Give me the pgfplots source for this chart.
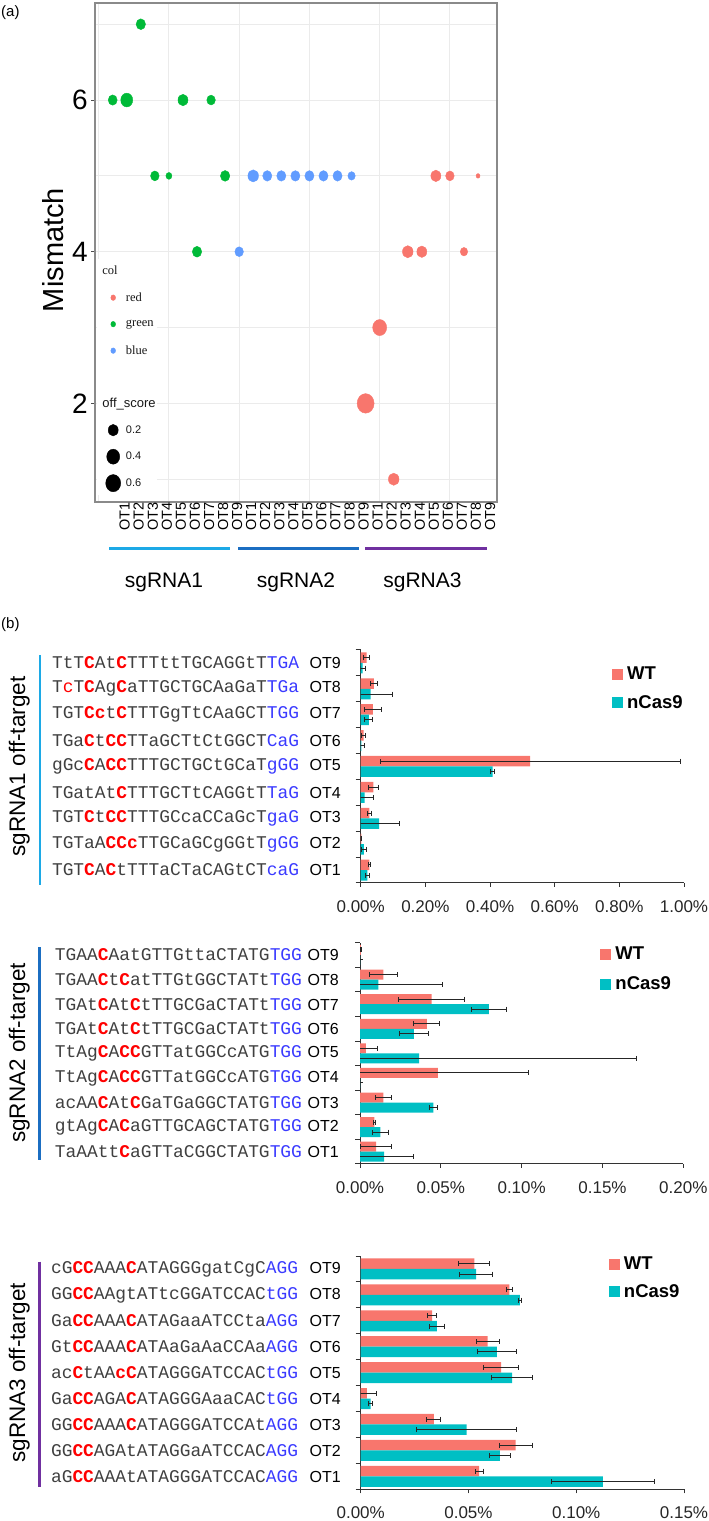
\documentclass[border=0pt]{standalone}
\usepackage{fontspec}
\setmainfont{Liberation Sans}
\newfontfamily\seriffont{Liberation Serif}
\newfontfamily\monofont{Liberation Mono}
\usepackage{pgfplots}
\usepackage{pgfplotstable}
\pgfplotsset{compat=1.18}

\definecolor{ggred}{HTML}{F8766D}
\definecolor{gggreen}{HTML}{00BA38}
\definecolor{ggblue}{HTML}{619CFF}
\definecolor{wt}{HTML}{F8766D}
\definecolor{nc}{HTML}{00BFC4}
\definecolor{sgA}{HTML}{1CA9E6}
\definecolor{sgB}{HTML}{1B6EC2}
\definecolor{sgC}{HTML}{7030A0}
\definecolor{seqgray}{HTML}{404040}
\definecolor{seqred}{HTML}{FF0000}
\definecolor{seqblue}{HTML}{3A3AFF}
\definecolor{gridc}{HTML}{EBEBEB}
\definecolor{framec}{HTML}{8A8A8A}

\newcommand{\R}[1]{{\bfseries\color{seqred}#1}}
\newcommand{\Rl}[1]{{\color{seqred}#1}}
\newcommand{\B}[1]{{\color{seqblue}#1}}
\newcommand{\seqlab}[3][10.6pt]{{\monofont\fontsize{17.9}{20}\selectfont\color{seqgray}#2}\hspace{#1}{\fontsize{16}{18}\selectfont\color{black}OT#3}}

\tikzset{boxpath/.style={draw=none, fill=none}}

% panel (a): x = off-target index (1..27), y = mismatch, size = bubble radius (px), c = colour group
\pgfplotstableread{
x y size c
1 6 4.5 1
2 6 6.0 1
3 7 4.7 1
4 5 4.3 1
5 5 3.0 1
6 6 5.0 1
7 4 4.7 1
8 6 4.3 1
9 5 4.7 1
10 4 4.3 2
11 5 5.3 2
12 5 4.6 2
13 5 4.6 2
14 5 4.6 2
15 5 4.6 2
16 5 4.6 2
17 5 4.6 2
18 5 3.7 2
19 2 8.5 0
20 3 7.0 0
21 1 5.3 0
22 4 5.3 0
23 4 5.0 0
24 5 5.0 0
25 5 4.3 0
26 4 3.7 0
27 5 2.0 0
}\bubbles

% panel (b): values in percent
\pgfplotstableread{
y wt wte nc nce
1 0.027 0.003 0.021 0.005
2 0.002 0.002 0.010 0.008
3 0.027 0.007 0.057 0.062
4 0.039 0.016 0.012 0.029
5 0.524 0.464 0.408 0.005
6 0.009 0.007 0.002 0.009
7 0.038 0.027 0.025 0.012
8 0.041 0.010 0.031 0.068
9 0.018 0.008 0.006 0.008
}\sgAtab

\pgfplotstableread{
y wt wte nc nce
1 0.0099 0.0093 0.0150 0.0178
2 0.0089 0.0006 0.0126 0.0051
3 0.0144 0.0050 0.0454 0.0027
4 0.0482 0.0563 0.0000 0.0000
5 0.0037 0.0072 0.0365 0.1347
6 0.0414 0.0080 0.0334 0.0092
7 0.0443 0.0202 0.0798 0.0108
8 0.0144 0.0087 0.0113 0.0396
9 0.0005 0.0004 0.0000 0.0000
}\sgBtab

\pgfplotstableread{
y wt wte nc nce
1 0.0550 0.0019 0.1124 0.0237
2 0.0719 0.0077 0.0646 0.0048
3 0.0339 0.0032 0.0492 0.0232
4 0.0029 0.0046 0.0046 0.0009
5 0.0651 0.0080 0.0703 0.0096
6 0.0589 0.0053 0.0632 0.0092
7 0.0331 0.0020 0.0354 0.0035
8 0.0690 0.0012 0.0739 0.0008
9 0.0527 0.0071 0.0535 0.0078
}\sgCtab

\pgfplotsset{
  offbar/.style={
    scale only axis, anchor=south west,
    xbar, bar width=10.5pt,
    ymin=0.5, ymax=9.5, xmin=0,
    axis x line*=bottom, axis y line*=left,
    axis line style={black!80, line width=1pt},
    ytick={1,...,9}, minor ytick={0.5,1.5,...,9.5},
    tick align=outside,
    major tick length=4pt, minor tick length=5pt,
    major y tick style={draw=none},
    minor y tick style={draw=black!80, line width=1pt},
    major x tick style={draw=black!80, line width=1pt},
    xticklabel style={font=\fontsize{17}{18}\selectfont, text=black!85, inner sep=0pt, yshift=-13pt},
    yticklabel style={inner sep=0pt, anchor=east},
    legend style={draw=none, fill=none, inner sep=0pt, font=\bfseries\fontsize{18.5}{20}\selectfont,
      nodes={inner sep=0pt}, /tikz/every odd column/.append style={column sep=5pt}},
    legend cell align=left,
  },
  barerr/.style={forget plot, draw=none,
    error bars/x dir=both, error bars/x explicit,
    error bars/error mark=|,
    error bars/error bar style={black!85, line width=1pt},
    error bars/error mark options={black!85, line width=1pt, mark size=2.5pt}},
  wtbar/.style={barerr, fill=wt, bar shift=5.25pt},
  ncbar/.style={barerr, fill=nc, bar shift=-5.25pt},
  sqleg/.style={legend image code/.code={\fill[#1] (0pt,-5pt) rectangle (10pt,5pt);}},
}

\begin{document}
\begin{tikzpicture}
\useasboundingbox (0pt,0pt) rectangle (709pt,1521pt);

% ---------------- panel (a) ----------------
\begin{axis}[
  at={(95pt,1019pt)}, anchor=south west, scale only axis,
  width=402pt, height=499pt,
  xmin=-0.26, xmax=28.35, ymin=0.70, ymax=7.28,
  axis line style={draw=framec, line width=1.2pt},
  xtick={0,5,...,25}, xticklabels={}, xmajorgrids,
  extra x ticks={1,...,27},
  extra x tick labels={OT1,OT2,OT3,OT4,OT5,OT6,OT7,OT8,OT9,OT1,OT2,OT3,OT4,OT5,OT6,OT7,OT8,OT9,OT1,OT2,OT3,OT4,OT5,OT6,OT7,OT8,OT9},
  extra x tick style={grid=none, major tick length=0pt,
    xticklabel style={rotate=90, anchor=east, inner sep=0pt, font=\fontsize{14.5}{14}\selectfont, yshift=-12pt}},
  major x tick style={draw=none},
  ytick={2,4,6}, minor ytick={1,3,5,7},
  ymajorgrids, yminorgrids,
  major grid style={draw=gridc, line width=1pt},
  minor grid style={draw=gridc, line width=0.8pt},
  tick align=outside, tick pos=left,
  major y tick style={draw=black!70, line width=1pt}, major tick length=4pt,
  minor tick length=0pt,
  yticklabel style={font=\fontsize{28}{30}\selectfont, inner sep=0pt, xshift=-3pt},
  /pgf/number format/assume math mode=true,
  ylabel={Mismatch},
  ylabel style={font=\fontsize{29}{30}\selectfont, at={(axis description cs:-0.104,0.505)}, anchor=center},
  colormap={ggc}{rgb255(0cm)=(248,118,109); rgb255(1cm)=(0,186,56); rgb255(2cm)=(97,156,255)},
  point meta min=0, point meta max=2,
  legend style={at={(axis description cs:0.005,0.487)}, anchor=north west, fill=white, draw=none,
    inner sep=3pt, row sep=8.5pt, nodes={inner sep=0pt, text=black!90},
    /tikz/every odd column/.append style={column sep=5pt}},
  legend cell align=left,
]
\addplot[scatter, only marks, mark=*, forget plot,
  point meta=\thisrow{c},
  scatter/use mapped color={draw=mapped color, fill=mapped color},
  visualization depends on={\thisrow{size} \as \msize},
  scatter/@pre marker code/.append style={/tikz/mark size=\msize},
  mark options={yscale=1.15}]
  table[x=x, y=y] \bubbles;

\addlegendimage{legend image code/.code={\path[boxpath] (-8pt,-9pt) rectangle (10pt,9pt);
  \node[overlay, anchor=west, inner sep=0pt, font=\seriffont\fontsize{12.5}{14}\selectfont] at (-6pt,0pt) {col};}}
\addlegendentry{}
\addlegendimage{legend image code/.code={\path[boxpath] (-8pt,-9pt) rectangle (10pt,9pt); \fill[ggred] (5pt,0pt) ellipse [x radius=2.4pt, y radius=2.8pt];}}
\addlegendentry{\seriffont\fontsize{12.5}{14}\selectfont red}
\addlegendimage{legend image code/.code={\path[boxpath] (-8pt,-9pt) rectangle (10pt,9pt); \fill[gggreen] (5pt,0pt) ellipse [x radius=2.4pt, y radius=2.8pt];}}
\addlegendentry{\seriffont\fontsize{12.5}{14}\selectfont green}
\addlegendimage{legend image code/.code={\path[boxpath] (-8pt,-9pt) rectangle (10pt,9pt); \fill[ggblue] (5pt,0pt) ellipse [x radius=2.4pt, y radius=2.8pt];}}
\addlegendentry{\seriffont\fontsize{12.5}{14}\selectfont blue}
\addlegendimage{legend image code/.code={\path[boxpath] (-8pt,-9pt) rectangle (10pt,9pt);}}
\addlegendentry{}
\addlegendimage{legend image code/.code={\path[boxpath] (-8pt,-9pt) rectangle (10pt,9pt);
  \node[overlay, anchor=west, inner sep=0pt, font=\fontsize{13}{14}\selectfont] at (-6pt,0pt) {off\_score};}}
\addlegendentry{}
\addlegendimage{legend image code/.code={\path[boxpath] (-8pt,-9pt) rectangle (10pt,9pt); \fill[black] (5pt,0pt) ellipse [x radius=5pt, y radius=5.8pt];}}
\addlegendentry{\fontsize{11}{12}\selectfont 0.2}
\addlegendimage{legend image code/.code={\path[boxpath] (-8pt,-9pt) rectangle (10pt,9pt); \fill[black] (5pt,0pt) ellipse [x radius=6.5pt, y radius=7.5pt];}}
\addlegendentry{\fontsize{11}{12}\selectfont 0.4}
\addlegendimage{legend image code/.code={\path[boxpath] (-8pt,-9pt) rectangle (10pt,9pt); \fill[black] (5pt,0pt) ellipse [x radius=7.5pt, y radius=8.6pt];}}
\addlegendentry{\fontsize{11}{12}\selectfont 0.6}
\end{axis}

% group bars under panel (a)
\draw[sgA, line width=3.5pt] (109pt,972.3pt) -- (230pt,972.3pt);
\draw[sgB, line width=3.5pt] (238pt,972.3pt) -- (359pt,972.3pt);
\draw[sgC, line width=3.5pt] (365pt,972.3pt) -- (487pt,972.3pt);
\node[font=\fontsize{21}{22}\selectfont] at (164pt,939pt) {sgRNA1};
\node[font=\fontsize{21}{22}\selectfont] at (296pt,939pt) {sgRNA2};
\node[font=\fontsize{21}{22}\selectfont] at (422.5pt,939pt) {sgRNA3};
\node[font=\fontsize{15}{16}\selectfont, anchor=west, inner sep=0pt] at (1pt,1508pt) {(a)};
\node[font=\fontsize{15}{16}\selectfont, anchor=west, inner sep=0pt] at (1pt,896pt) {(b)};

% ---------------- panel (b) chart 1 ----------------
\begin{axis}[offbar,
  at={(360.7pt,638pt)}, width=323.3pt, height=233pt, xmax=1,
  xtick={0,0.2,0.4,0.6,0.8,1}, xticklabels={0.00\%,0.20\%,0.40\%,0.60\%,0.80\%,1.00\%},
  yticklabels={
    {\seqlab{TGT\R{C}A\R{C}tTTTaCTaCAGtCT\B{caG}}{1}},
    {\seqlab{TGTaA\R{CCc}TTGCaGCgGGtT\B{gGG}}{2}},
    {\seqlab{TGT\R{C}t\R{CC}TTTGCcaCCaGcT\B{gaG}}{3}},
    {\seqlab{TGatAt\R{C}TTTGCTtCAGGtT\B{TaG}}{4}},
    {\seqlab{gGc\R{C}A\R{CC}TTTGCTGCtGCaT\B{gGG}}{5}},
    {\seqlab{TGa\R{C}t\R{CC}TTaGCTtCtGGCT\B{CaG}}{6}},
    {\seqlab{TGT\R{Cc}t\R{C}TTTGgTtCAaGCT\B{TGG}}{7}},
    {\seqlab{T\Rl{c}T\R{C}Ag\R{C}aTTGCTGCAaGaT\B{TGa}}{8}},
    {\seqlab{TtT\R{C}At\R{C}TTTttTGCAGGtT\B{TGA}}{9}}},
  yticklabel style={xshift=-15.7pt},
  legend style={at={(axis description cs:0.776,0.928)}, anchor=north west, row sep=14pt},
]
\addplot[wtbar] table[x=wt, y=y, x error=wte] \sgAtab;
\addplot[ncbar] table[x=nc, y=y, x error=nce] \sgAtab;
\addlegendimage{sqleg=wt}\addlegendentry{WT}
\addlegendimage{sqleg=nc}\addlegendentry{nCas9}
\end{axis}

% ---------------- panel (b) chart 2 ----------------
\begin{axis}[offbar,
  at={(360pt,357pt)}, width=323.3pt, height=221.3pt, xmax=0.2,
  xtick={0,0.05,0.1,0.15,0.2}, xticklabels={0.00\%,0.05\%,0.10\%,0.15\%,0.20\%},
  yticklabels={
    {\seqlab[5.7pt]{TaAAtt\R{C}aGTTaCGGCTATG\B{TGG}}{1}},
    {\seqlab[5.7pt]{gtAg\R{C}A\R{C}aGTTGCAGCTATG\B{TGG}}{2}},
    {\seqlab[5.7pt]{acAA\R{C}At\R{C}GaTGaGGCTATG\B{TGG}}{3}},
    {\seqlab[5.7pt]{TtAg\R{C}A\R{CC}GTTatGGCcATG\B{TGG}}{4}},
    {\seqlab[5.7pt]{TtAg\R{C}A\R{CC}GTTatGGCcATG\B{TGG}}{5}},
    {\seqlab[5.7pt]{TGAt\R{C}At\R{C}tTTGCGaCTATt\B{TGG}}{6}},
    {\seqlab[5.7pt]{TGAt\R{C}At\R{C}tTTGCGaCTATt\B{TGG}}{7}},
    {\seqlab[5.7pt]{TGAA\R{C}t\R{C}atTTGtGGCTATt\B{TGG}}{8}},
    {\seqlab[5.7pt]{TGAA\R{C}AatGTTGttaCTATG\B{TGG}}{9}}},
  yticklabel style={xshift=-17pt},
  legend style={at={(axis description cs:0.742,0.982)}, anchor=north west, row sep=15.7pt},
]
\addplot[wtbar, bar shift=5pt, bar width=10pt] table[x=wt, y=y, x error=wte] \sgBtab;
\addplot[ncbar, bar shift=-5pt, bar width=10pt] table[x=nc, y=y, x error=nce] \sgBtab;
\addlegendimage{sqleg=wt}\addlegendentry{WT}
\addlegendimage{sqleg=nc}\addlegendentry{nCas9}
\end{axis}

% ---------------- panel (b) chart 3 ----------------
\begin{axis}[offbar,
  at={(360.7pt,31.7pt)}, width=323.3pt, height=233.3pt, xmax=0.15,
  xtick={0,0.05,0.1,0.15}, xticklabels={0.00\%,0.05\%,0.10\%,0.15\%},
  yticklabels={
    {\seqlab[11.6pt]{aG\R{CC}AAAtATAGGGATCCAC\B{AGG}}{1}},
    {\seqlab[11.6pt]{GG\R{CC}AGAtATAGGaATCCAC\B{AGG}}{2}},
    {\seqlab[11.6pt]{GG\R{CC}AAA\R{C}ATAGGGATCCAt\B{AGG}}{3}},
    {\seqlab[11.6pt]{Ga\R{CC}AGA\R{C}ATAGGGAaaCAC\B{tGG}}{4}},
    {\seqlab[11.6pt]{ac\R{C}tAA\R{cC}ATAGGGATCCAC\B{tGG}}{5}},
    {\seqlab[11.6pt]{Gt\R{CC}AAA\R{C}ATAaGaAaCCAa\B{AGG}}{6}},
    {\seqlab[11.6pt]{Ga\R{CC}AAA\R{C}ATAGaaATCCta\B{AGG}}{7}},
    {\seqlab[11.6pt]{GG\R{CC}AAgtATtcGGATCCAC\B{tGG}}{8}},
    {\seqlab[11.6pt]{cG\R{CC}AAA\R{C}ATAGGGgatCgC\B{AGG}}{9}}},
  yticklabel style={xshift=-15.7pt},
  legend style={at={(axis description cs:0.766,0.997)}, anchor=north west, row sep=13.3pt},
]
\addplot[wtbar] table[x=wt, y=y, x error=wte] \sgCtab;
\addplot[ncbar] table[x=nc, y=y, x error=nce] \sgCtab;
\addlegendimage{sqleg=wt}\addlegendentry{WT}
\addlegendimage{sqleg=nc}\addlegendentry{nCas9}
\end{axis}

% side bars and rotated titles
\draw[sgA, line width=2.7pt] (40pt,866pt) -- (40pt,636pt);
\draw[sgB, line width=2.7pt] (39.3pt,573.7pt) -- (39.3pt,361pt);
\draw[sgC, line width=2.7pt] (39.3pt,259.3pt) -- (39.3pt,34.3pt);
\node[rotate=90, anchor=base, inner sep=0pt, font=\fontsize{22.5}{24}\selectfont] at (25pt,754.5pt) {sgRNA1 off-target};
\node[rotate=90, anchor=base, inner sep=0pt, font=\fontsize{22.5}{24}\selectfont] at (25pt,468pt) {sgRNA2 off-target};
\node[rotate=90, anchor=base, inner sep=0pt, font=\fontsize{22.5}{24}\selectfont] at (25pt,148.3pt) {sgRNA3 off-target};
\end{tikzpicture}
\end{document}
